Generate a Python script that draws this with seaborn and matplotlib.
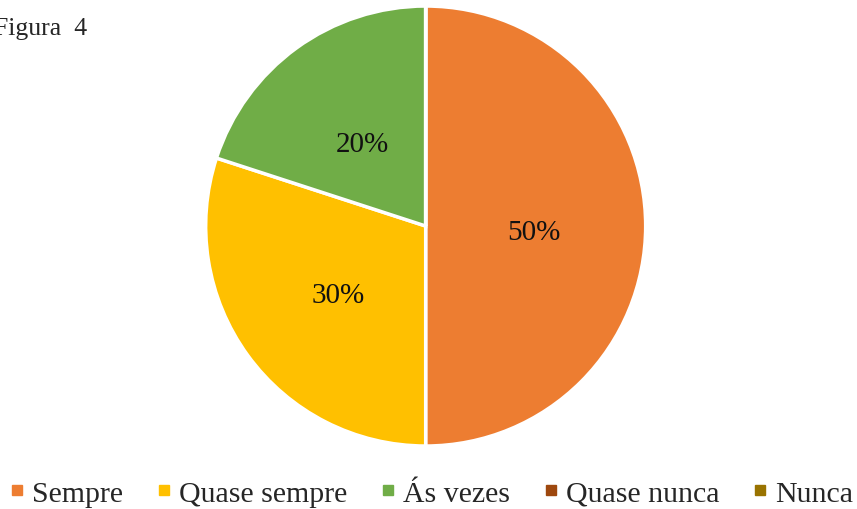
import seaborn as sns
import matplotlib.pyplot as plt
from matplotlib.lines import Line2D

categories = ['Sempre', 'Quase sempre', 'Ás vezes', 'Quase nunca', 'Nunca']
values = [50, 30, 20, 0, 0]
colors = ['#ED7D31', '#FFC000', '#70AD47', '#9E480E', '#997300']

sns.set_style('white')
plt.rcParams['font.family'] = ['Liberation Serif', 'DejaVu Serif']

fig = plt.figure(figsize=(8.57, 5.10), dpi=100)
ax = fig.add_axes([0.240, 0.1235, 0.5134, 0.8627])

palette = sns.color_palette(colors)


def pct(p):
    return '%.0f%%' % p if p > 0 else ''


wedges, texts, autotexts = ax.pie(values, colors=palette, startangle=90, counterclock=False,
                                  autopct=pct, pctdistance=0.49,
                                  wedgeprops={'edgecolor': 'white', 'linewidth': 2.5},
                                  textprops={'fontsize': 21, 'color': '#111111'})
# labels sit a little lower in the original
for t in autotexts:
    x, y = t.get_position()
    t.set_position((x, y - 0.025))

ax.set_xlim(-1, 1)
ax.set_ylim(-1, 1)
ax.set_aspect('equal')

fig.text(-0.007, 0.931, 'Figura  4', fontsize=18.5, ha='left', va='baseline')

handles = [Line2D([0], [0], marker='s', linestyle='', markersize=7.2, color=c) for c in colors]
fig.legend(handles, categories, loc='center', bbox_to_anchor=(0.504, 0.031), ncol=5,
           frameon=False, fontsize=21.5, handlelength=0.4, handletextpad=0.3,
           columnspacing=1.17, borderpad=0)

plt.savefig('out.png', dpi=100)
